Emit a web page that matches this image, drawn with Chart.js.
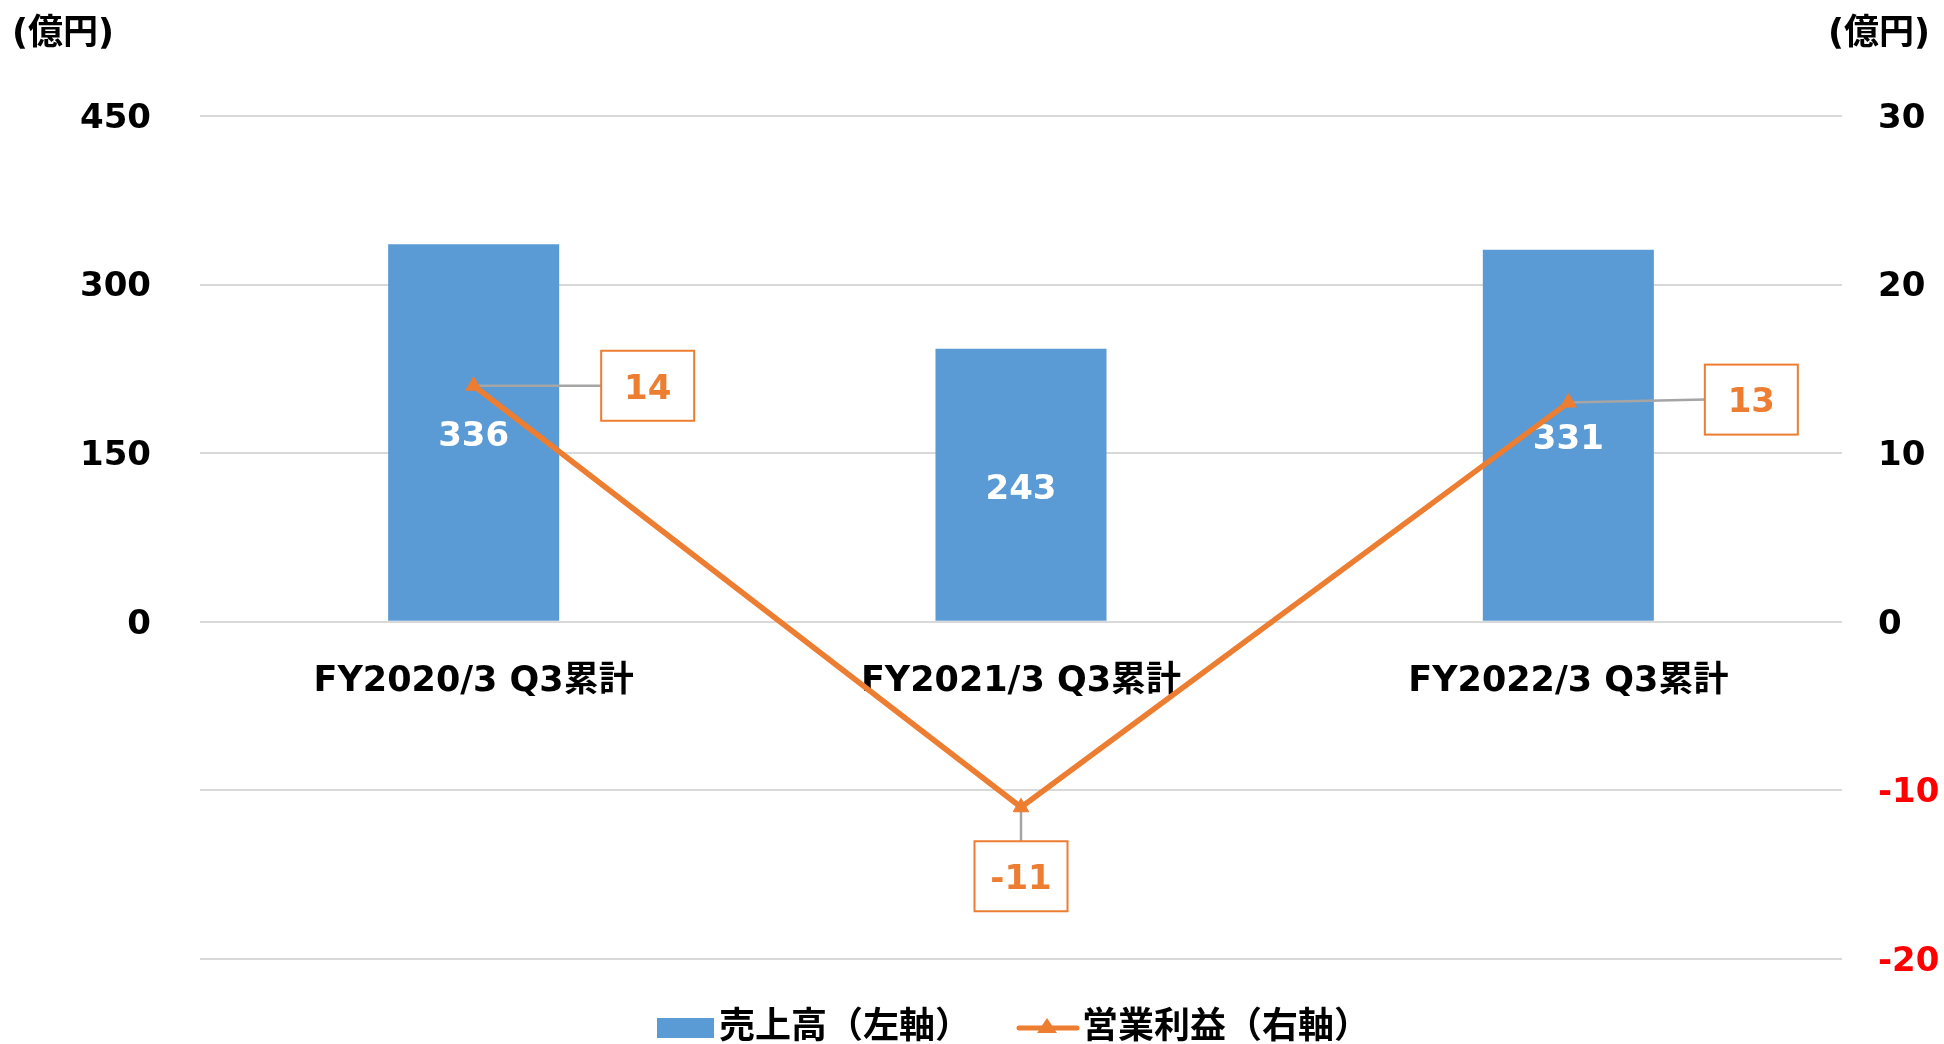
<!DOCTYPE html>
<html>
<head>
<meta charset="utf-8">
<script src="https://cdn.jsdelivr.net/npm/chart.js@4/dist/chart.umd.min.js"></script>
<style>
  html, body { margin: 0; padding: 0; background: #fff; }
  #wrap { width: 1944px; height: 1044px; }
</style>
</head>
<body>
<div id="wrap"><canvas id="salesChart" width="1944" height="1044"></canvas></div>
<script>
  'use strict';

  // data
  var categories = ['FY2020/3 Q3累計', 'FY2021/3 Q3累計', 'FY2022/3 Q3累計'];
  var sales = [336, 243, 331];          // 売上高 (left axis, 億円)
  var operatingProfit = [14, -11, 13];  // 営業利益 (right axis, 億円)
  var seriesNames = ['売上高（左軸）', '営業利益（右軸）'];
  var unitLabel = '(億円)';

  var BLUE = '#5B9BD5';
  var ORANGE = '#ED7D31';
  var NUM_FONT = 'bold 34px "DejaVu Sans"';
  var JP_FONT = 'bold 36px "Noto Sans CJK JP"';

  // where each profit label box sits relative to its point
  var profitLabelOffsets = [[174, 0], [0, 69], [183, -3]];
  var boxW = 93, boxH = 70;

  var labelPlugin = {
    id: 'labels',
    afterDatasetDraw: function (chart, args) {
      var c = chart.ctx;
      if (args.meta.type === 'bar') {
        c.save();
        c.font = NUM_FONT;
        c.fillStyle = '#fff';
        c.textAlign = 'center';
        c.textBaseline = 'middle';
        args.meta.data.forEach(function (bar, i) {
          c.fillText(String(sales[i]), bar.x, (bar.y + bar.base) / 2 + 5);
        });
        // leader lines for the profit labels
        var pts = chart.getDatasetMeta(1).data;
        c.strokeStyle = '#A5A5A5';
        c.lineWidth = 2.5;
        pts.forEach(function (p, i) {
          var o = profitLabelOffsets[i];
          var bx = p.x + o[0], by = p.y + o[1];
          c.beginPath();
          c.moveTo(p.x, p.y);
          if (o[0] !== 0) {
            c.lineTo(bx - boxW / 2, by);
          } else {
            c.lineTo(bx, by - boxH / 2);
          }
          c.stroke();
        });
        c.restore();
      }
    },
    afterDraw: function (chart) {
      var c = chart.ctx;
      c.save();
      // profit label boxes
      var pts = chart.getDatasetMeta(1).data;
      c.textAlign = 'center';
      c.textBaseline = 'middle';
      pts.forEach(function (p, i) {
        var o = profitLabelOffsets[i];
        var bx = p.x + o[0], by = p.y + o[1];
        c.fillStyle = '#fff';
        c.fillRect(bx - boxW / 2, by - boxH / 2, boxW, boxH);
        c.strokeStyle = ORANGE;
        c.lineWidth = 2;
        c.strokeRect(bx - boxW / 2, by - boxH / 2, boxW, boxH);
        c.font = NUM_FONT;
        c.fillStyle = ORANGE;
        c.fillText(String(operatingProfit[i]), bx, by + 4);
      });

      // unit labels
      c.font = 'bold 35px "DejaVu Sans", "Noto Sans CJK JP"';
      c.fillStyle = '#000';
      c.textAlign = 'left';
      c.fillText(unitLabel, 12, 35);
      c.textAlign = 'right';
      c.fillText(unitLabel, 1930, 35);

      // legend
      var ly = 1028;
      c.font = JP_FONT;
      c.textAlign = 'left';
      c.fillStyle = BLUE;
      c.fillRect(657, ly - 10, 57, 20);
      c.fillStyle = '#000';
      c.fillText(seriesNames[0], 719, ly - 4);

      c.strokeStyle = ORANGE;
      c.lineWidth = 5;
      c.lineCap = 'round';
      c.beginPath();
      c.moveTo(1019, ly);
      c.lineTo(1077, ly);
      c.stroke();
      c.fillStyle = ORANGE;
      c.beginPath();
      c.moveTo(1047, ly - 10);
      c.lineTo(1057, ly + 5);
      c.lineTo(1037, ly + 5);
      c.closePath();
      c.fill();
      c.fillStyle = '#000';
      c.fillText(seriesNames[1], 1082, ly - 4);
      c.restore();
    }
  };

  new Chart(document.getElementById('salesChart'), {
    data: {
      labels: categories,
      datasets: [
        {
          type: 'bar',
          label: seriesNames[0],
          data: sales,
          backgroundColor: BLUE,
          yAxisID: 'y',
          barPercentage: 0.3125,
          categoryPercentage: 1,
          order: 2
        },
        {
          type: 'line',
          label: seriesNames[1],
          data: operatingProfit,
          borderColor: ORANGE,
          backgroundColor: ORANGE,
          borderWidth: 5.5,
          pointStyle: 'triangle',
          pointRadius: 9,
          pointBackgroundColor: ORANGE,
          pointBorderColor: ORANGE,
          pointBorderWidth: 1,
          tension: 0,
          yAxisID: 'y1',
          order: 1
        }
      ]
    },
    options: {
      responsive: false,
      animation: false,
      events: [],
      layout: { padding: { top: 116, bottom: 85, left: 0, right: 0 } },
      plugins: {
        legend: { display: false },
        tooltip: { enabled: false }
      },
      scales: {
        x: {
          type: 'category',
          position: { y: 0 },
          offset: true,
          grid: { display: false, drawTicks: false },
          border: { display: false },
          ticks: {
            color: '#000',
            padding: 39,
            maxRotation: 0,
            font: { family: '"DejaVu Sans", "Noto Sans CJK JP"', size: 35, weight: 'bold' }
          }
        },
        y: {
          position: 'left',
          min: -300,
          max: 450,
          afterFit: function (scale) { scale.width = 200; },
          grid: { color: '#D9D9D9', lineWidth: 2, drawTicks: false },
          border: { display: false },
          ticks: {
            stepSize: 150,
            padding: 49,
            labelOffset: 3,
            color: '#000',
            font: { family: '"DejaVu Sans"', size: 34, weight: 'bold' },
            callback: function (v) { return v < 0 ? '' : v; }
          }
        },
        y1: {
          position: 'right',
          min: -20,
          max: 30,
          afterFit: function (scale) { scale.width = 102; },
          grid: { display: false, drawTicks: false },
          border: { display: false },
          ticks: {
            stepSize: 10,
            padding: 36,
            labelOffset: 3,
            color: function (ctx) { return ctx.tick.value < 0 ? '#FF0000' : '#000'; },
            font: { family: '"DejaVu Sans"', size: 34, weight: 'bold' }
          }
        }
      }
    },
    plugins: [labelPlugin]
  });
</script>
</body>
</html>
